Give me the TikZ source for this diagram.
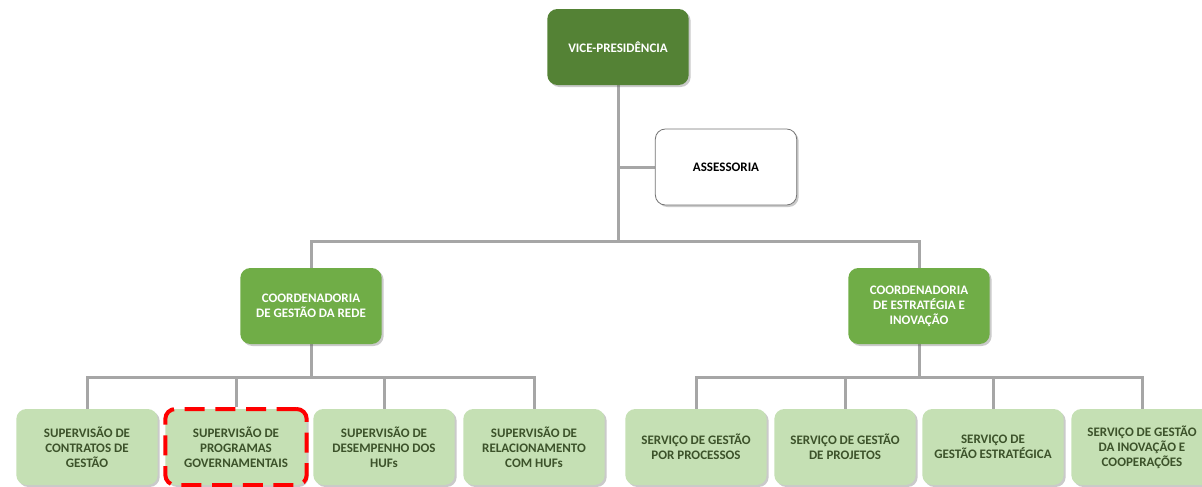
\documentclass[tikz,border=0pt]{standalone}
\usepackage{fontspec}
\setmainfont{Carlito}
\usetikzlibrary{positioning, shadows, backgrounds}

\definecolor{vpgreen}{RGB}{84,130,53}
\definecolor{coordgreen}{RGB}{112,173,71}
\definecolor{leafgreen}{RGB}{197,224,180}
\definecolor{leaftext}{RGB}{60,82,42}
\definecolor{linegray}{RGB}{166,166,166}

\tikzset{
  orgbox/.style={rectangle, rounded corners=7.5pt, minimum width=106pt, minimum height=57pt,
    inner sep=2pt, align=center, font=\fontsize{9.75}{11.25}\selectfont\bfseries,
    drop shadow={shadow xshift=1.5pt, shadow yshift=-1.5pt, opacity=0.35, fill=black!60}},
  vpbox/.style={orgbox, fill=vpgreen, text=white},
  assessbox/.style={orgbox, fill=white, draw=black!55, line width=0.6pt, text=black},
  coordbox/.style={orgbox, fill=coordgreen, text=white},
  leafbox/.style={orgbox, fill=leafgreen, text=leaftext},
  marked/.style={draw=red, line width=3pt, dash pattern=on 15pt off 8pt},
  link/.style={draw=linegray, line width=2.25pt}
}

\begin{document}
\begin{tikzpicture}[x=0.75pt, y=-0.75pt]
\useasboundingbox (0,0) rectangle (1202,486);

\coordinate (BusTop) at (618,241);
\coordinate (AssessJoin) at (618,167);
\coordinate (BusRede) at (311,377);
\coordinate (BusEstr) at (919,377);

% top levels
\node[vpbox] (VP) at (618,47) {VICE-PRESIDÊNCIA};
\node[assessbox] (Assess) at (726,167) {ASSESSORIA};
\node[coordbox] (CoordRede) at (311,306) {COORDENADORIA\\DE GESTÃO DA REDE};
\node[coordbox] (CoordEstr) at (919,306) {COORDENADORIA\\DE ESTRATÉGIA E\\INOVAÇÃO};

% supervisoes
\node[leafbox] (SupContratos) at (87,447) {SUPERVISÃO DE\\CONTRATOS DE\\GESTÃO};
\node[leafbox, marked] (SupProgramas) at (236,447) {SUPERVISÃO DE\\PROGRAMAS\\GOVERNAMENTAIS};
\node[leafbox] (SupDesempenho) at (384,447) {SUPERVISÃO DE\\DESEMPENHO DOS\\HUFs};
\node[leafbox] (SupRelac) at (534,447) {SUPERVISÃO DE\\RELACIONAMENTO\\COM HUFs};

% servicos
\node[leafbox] (ServProcessos) at (696,447) {SERVIÇO DE GESTÃO\\POR PROCESSOS};
\node[leafbox] (ServProjetos) at (845,447) {SERVIÇO DE GESTÃO\\DE PROJETOS};
\node[leafbox] (ServEstrategica) at (993,447) {SERVIÇO DE\\GESTÃO ESTRATÉGICA};
\node[leafbox] (ServInovacao) at (1142,447) {SERVIÇO DE GESTÃO\\DA INOVAÇÃO E\\COOPERAÇÕES};

\begin{scope}[on background layer]
\draw[link] (VP.south) -- (BusTop);
\draw[link] (AssessJoin) -- (Assess.west);
\draw[link] (BusTop) -| (CoordRede.north);
\draw[link] (BusTop) -| (CoordEstr.north);
\draw[link] (CoordRede.south) -- (BusRede);
\foreach \leaf in {SupContratos, SupProgramas, SupDesempenho, SupRelac}
  \draw[link] (BusRede) -| (\leaf.north);
\draw[link] (CoordEstr.south) -- (BusEstr);
\foreach \leaf in {ServProcessos, ServProjetos, ServEstrategica, ServInovacao}
  \draw[link] (BusEstr) -| (\leaf.north);
\end{scope}
\end{tikzpicture}
\end{document}
